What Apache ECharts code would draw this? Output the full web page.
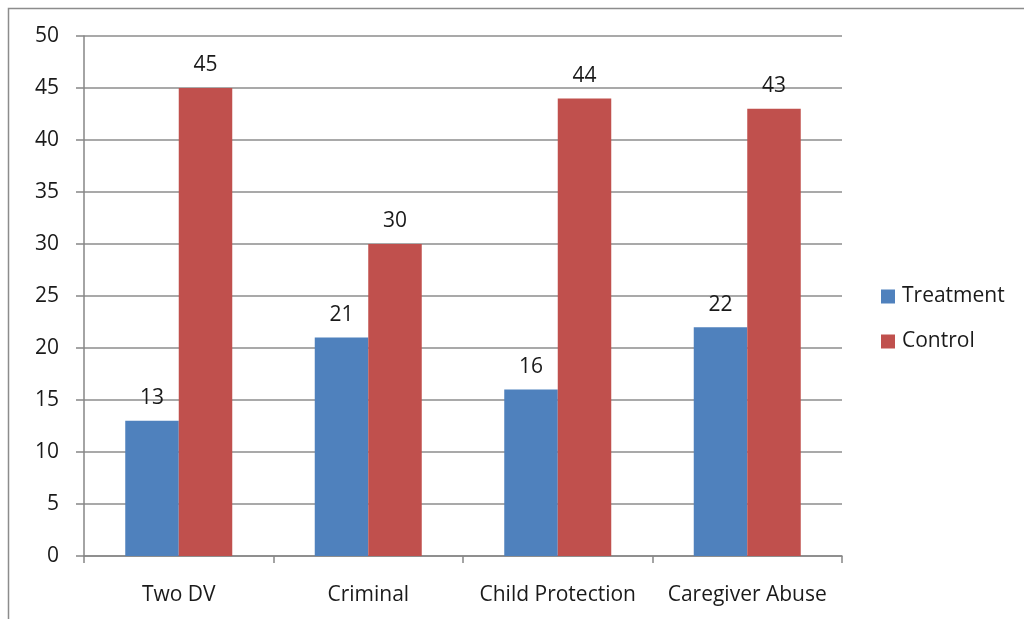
<!DOCTYPE html>
<html>
<head>
<meta charset="utf-8">
<script src="https://cdn.jsdelivr.net/npm/echarts@6/dist/echarts.min.js"></script>
<style>
  html, body { margin: 0; padding: 0; background: #fff; }
  #chart { width: 1024px; height: 619px; }
</style>
</head>
<body>
<div id="chart"></div>
<script>
const categories = ['Two DV', 'Criminal', 'Child Protection', 'Caregiver Abuse'];
const treatment = [13, 21, 16, 22];
const control = [45, 30, 44, 43];
const yTicks = { min: 0, max: 50, interval: 5 };

const font = '"Open Sans", "Noto Sans", sans-serif';
const chart = echarts.init(document.getElementById('chart'));

const labelStyle = {
  show: true,
  position: 'top',
  distance: 12,
  color: '#1a1a1a',
  fontSize: 21,
  fontFamily: font
};

chart.setOption({
  animation: false,
  graphic: [
    {
      type: 'rect',
      shape: { x: 8.5, y: 8.5, width: 1100, height: 700 },
      style: { fill: 'none', stroke: '#8c8c8c', lineWidth: 1.5 },
      silent: true
    }
  ],
  grid: { left: 84, right: 182, top: 36, bottom: 63 },
  legend: {
    orient: 'vertical',
    left: 876,
    top: 281,
    itemWidth: 14,
    itemHeight: 14,
    itemGap: 24,
    icon: 'rect',
    textStyle: { fontSize: 21, color: '#1a1a1a', fontFamily: font, padding: [0, 0, 0, 2] },
    data: ['Treatment', 'Control']
  },
  xAxis: {
    type: 'category',
    data: categories,
    axisLine: { lineStyle: { color: '#868686', width: 1.5 } },
    axisTick: { show: true, interval: 0, length: 7, lineStyle: { color: '#868686', width: 1.5 } },
    axisLabel: { interval: 0, hideOverlap: false, margin: 29, fontSize: 21, color: '#1a1a1a', fontFamily: font }
  },
  yAxis: {
    type: 'value',
    min: yTicks.min,
    max: yTicks.max,
    interval: yTicks.interval,
    axisLine: { show: true, lineStyle: { color: '#868686', width: 1.5 } },
    axisTick: { show: true, inside: false, length: 8, lineStyle: { color: '#868686', width: 1.5 } },
    axisLabel: { margin: 25, fontSize: 21, color: '#1a1a1a', fontFamily: font },
    splitLine: { lineStyle: { color: '#8c8c8c', width: 1.5 } }
  },
  series: [
    {
      name: 'Treatment',
      type: 'bar',
      data: treatment,
      barWidth: 53.5,
      barGap: '0%',
      itemStyle: { color: '#4F81BD' },
      label: labelStyle
    },
    {
      name: 'Control',
      type: 'bar',
      data: control,
      barWidth: 53.5,
      itemStyle: { color: '#C0504D' },
      label: labelStyle
    }
  ]
});
</script>
</body>
</html>
